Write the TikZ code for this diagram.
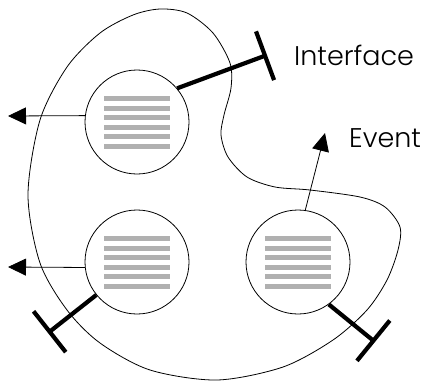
\documentclass[tikz,border=0pt]{standalone}
\usepackage{fontspec}
\setmainfont{Poppins}[UprightFont=* Light]
\usetikzlibrary{arrows.meta,calc}
\definecolor{bargray}{RGB}{176,176,176}
\tikzset{
  obj/.style={circle,draw,line width=0.8pt,minimum size=104pt,inner sep=0pt},
  msg/.style={line width=0.8pt,-{Triangle[length=18pt,width=17pt]}},
  port/.style={line width=4.2pt,-{Bar[width=52pt]}},
  lbl/.style={inner sep=0pt,anchor=base west,font=\fontsize{27}{32}\selectfont}
}
\begin{document}
\begin{tikzpicture}[x=1pt,y=-1pt]
\useasboundingbox (0,0) rectangle (423,381);
% the component boundary
\draw[line width=0.8pt] plot[smooth cycle] coordinates {
  (28,195) (40,120) (67,67) (100,33) (133,15) (160,9) (187,13) (213,33)
  (230,63) (231,88) (224,115) (221,135) (228,157) (247,177) (275,187)
  (310,190) (360,197) (385,207) (400,227) (398,250) (387,280) (367,310)
  (333,340) (283,367) (217,380) (150,370) (100,343) (67,310) (40,263)};
% objects
\node[obj] (cTL) at (137,122) {};
\node[obj] (cBL) at (137,262) {};
\node[obj] (cBR) at (298,262) {};
\foreach \c in {cTL,cBL,cBR}
  \foreach \k in {0,...,5}
    \fill[bargray] ($(\c)+(-33,-26+\k*9.5)$) rectangle ++(66,5);
% labels
\node[lbl] (ifc) at (294,65) {Interface};
\node[lbl] (evt) at (349,147) {Event};
% ends of the connectors
\coordinate (outT) at (8,116);
\coordinate (outB) at (8,267);
\coordinate (evtTip) at (325,133);
\coordinate (portT) at (267,55);
\coordinate (portL) at (48,333);
\coordinate (portR) at (375,342);
\draw[msg] (cTL.173) -- (outT);
\draw[msg] (cBL.186) -- (outB);
\draw[msg] (cBR.82) -- (evtTip);
\draw[port] (cTL.40) -- (portT);
\draw[port] (cBL.219) -- (portL);
\draw[port] (cBR.306) -- (portR);
\end{tikzpicture}
\end{document}
